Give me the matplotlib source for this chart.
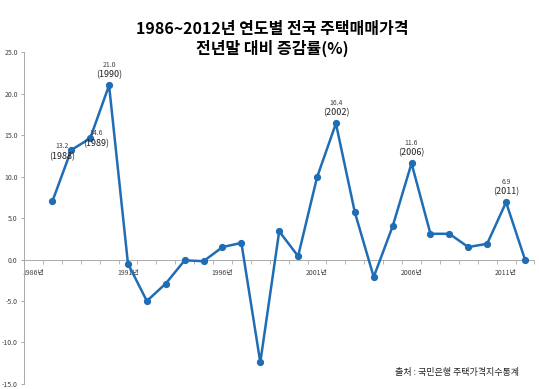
import matplotlib
matplotlib.use("Agg")
import matplotlib.pyplot as plt
import numpy as np

plt.rcParams['font.family'] = ['Noto Sans CJK KR', 'DejaVu Sans']

# data
years = list(range(1986, 2013))
rates = [None, 7.0, 13.2, 14.6, 21.0, -0.5, -5.0, -2.9, -0.1, -0.2,
         1.5, 2.0, -12.4, 3.4, 0.4, 9.9, 16.4, 5.7, -2.1, 4.0,
         11.6, 3.1, 3.1, 1.5, 1.9, 6.9, 0.0]
label_years = [1986, 1991, 1996, 2001, 2006, 2011]
peak_years = [1988, 1989, 1990, 2002, 2006, 2011]
y_ticks = [-15.0, -10.0, -5.0, 0.0, 5.0, 10.0, 15.0, 20.0, 25.0]

title = "1986~2012년 연도별 전국 주택매매가격\n전년말 대비 증감률(%)"
source = "출처 : 국민은행 주택가격지수통계"

blue = "#1f6db5"
grey = "#404040"

fig = plt.figure(figsize=(5.39, 3.89), dpi=100)
ax = fig.add_axes([0.0445, 0.013, 0.947, 0.853])

x = np.arange(len(years))
vals = np.array([np.nan if v is None else v for v in rates])
ax.plot(x, vals, color=blue, lw=1.8, marker='o', ms=4.2, zorder=3)

ax.set_xlim(-0.5, len(years) - 0.5)
ax.set_ylim(-15, 25)
ax.set_yticks(y_ticks)
ax.set_yticklabels(["%.1f" % v for v in y_ticks], fontsize=5, color=grey)
ax.tick_params(axis='y', length=2.5, width=0.6, color='#999999', pad=2)

ax.spines['bottom'].set_position(('data', 0))
for s in ['top', 'right']:
    ax.spines[s].set_visible(False)
ax.spines['left'].set_color('#aaaaaa')
ax.spines['bottom'].set_color('#aaaaaa')
ax.spines['left'].set_linewidth(0.7)
ax.spines['bottom'].set_linewidth(0.7)

ax.set_xticks([years.index(y) for y in label_years])
ax.set_xticklabels(["%d년" % y for y in label_years], fontsize=5, color=grey)
ax.set_xticks(np.arange(len(years) + 1) - 0.5, minor=True)
ax.tick_params(axis='x', which='major', length=0, pad=7)
ax.tick_params(axis='x', which='minor', length=3, width=0.6, color='#aaaaaa')

# label offsets (x in categories, y in data units) for value / year text
offsets = {1988: (-0.5, 0.47, -0.85), 1989: (0.33, 0.6, -0.6)}
for yr in peak_years:
    i = years.index(yr)
    v = rates[i]
    dx, dv, dy = offsets.get(yr, (0, 2.45, 1.3))
    ax.text(i + dx, v + dv, "%.1f" % v, fontsize=5, color=grey,
            ha='center', va='center')
    ax.text(i + dx, v + dy, "(%d)" % yr, fontsize=6.5, color='#222222',
            ha='center', va='center')

fig.text(0.505, 0.945, title, ha='center', va='top', fontsize=11.5,
         fontweight='heavy', linespacing=1.15)
fig.text(0.962, 0.03, source, ha='right', va='bottom', fontsize=6.5,
         color='#222222')

fig.savefig("out.png", dpi=100)
